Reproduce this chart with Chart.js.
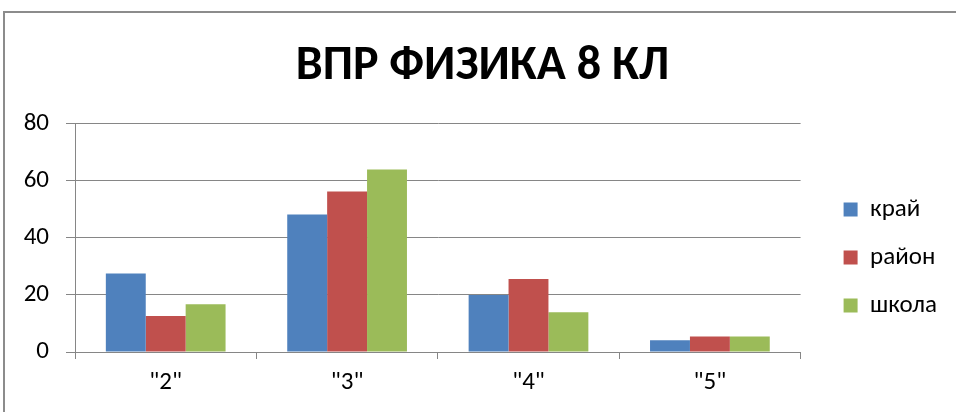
<!DOCTYPE html>
<html>
<head>
<meta charset="utf-8">
<script src="https://cdn.jsdelivr.net/npm/chart.js@4/dist/chart.umd.min.js"></script>
<style>
    html, body { margin: 0; padding: 0; background: #fff; overflow: hidden; }
    #wrap { position: absolute; left: 0; top: 0; width: 956px; height: 412px; }
    #frame { position: absolute; left: 3px; top: 11px; width: 1000px; height: 500px; border: 2px solid #8c8c8c; box-sizing: border-box; }
</style>
</head>
<body>
<div id="frame"></div>
<div id="wrap"><canvas id="chart" width="956" height="412"></canvas></div>
<script>
// chart data
const categories = ['"2"', '"3"', '"4"', '"5"'];
const seriesNames = ['край', 'район', 'школа'];
const krai = [27.5, 48.2, 20.0, 4.1];
const raion = [12.6, 56.2, 25.6, 5.4];
const shkola = [16.7, 63.9, 13.9, 5.4];
const yTicks = [0, 20, 40, 60, 80];

const colors = ['#4F81BD', '#C0504D', '#9BBB59'];
const fontFamily = 'Carlito, "Liberation Sans Narrow", "Open Sans", sans-serif';

document.addEventListener("DOMContentLoaded", function() {
    const ctx = document.getElementById('chart').getContext('2d');
    new Chart(ctx, {
        type: 'bar',
        data: {
            labels: categories,
            datasets: [krai, raion, shkola].map((values, i) => ({
                label: seriesNames[i],
                data: values,
                backgroundColor: colors[i],
                borderWidth: 0,
                categoryPercentage: 0.66,
                barPercentage: 1.0
            }))
        },
        options: {
            responsive: false,
            animation: false,
            layout: { padding: { left: 18, right: 9, top: 38, bottom: 5 } },
            plugins: {
                title: {
                    display: true,
                    text: 'ВПР ФИЗИКА 8 КЛ',
                    color: '#000',
                    font: { family: fontFamily, size: 48, weight: 'bold' },
                    padding: { top: 0, bottom: 28 }
                },
                legend: {
                    position: 'right',
                    // blank title only pushes the items down to where they sit in the original
                    title: { display: true, text: ' ', font: { size: 20 }, padding: 23 },
                    labels: {
                        color: '#000',
                        font: { family: fontFamily, size: 25 },
                        boxWidth: 14,
                        boxHeight: 14,
                        padding: 23
                    }
                },
                tooltip: { enabled: false }
            },
            scales: {
                x: {
                    grid: {
                        display: true,
                        drawOnChartArea: false,
                        drawTicks: true,
                        tickLength: 7,
                        color: '#868686'
                    },
                    border: { color: '#868686', width: 1 },
                    ticks: {
                        color: '#000',
                        font: { family: fontFamily, size: 25 },
                        padding: 9
                    }
                },
                y: {
                    min: 0,
                    max: 80,
                    afterBuildTicks: axis => { axis.ticks = yTicks.map(v => ({ value: v })); },
                    afterFit: axis => { axis.width = 57; },
                    grid: { color: '#868686', tickLength: 9 },
                    border: { color: '#868686', width: 1 },
                    ticks: {
                        color: '#000',
                        font: { family: fontFamily, size: 25 },
                        padding: 17
                    }
                },
                // empty spacer axis: keeps a gap between plot and legend
                gap: {
                    position: 'right',
                    display: true,
                    grid: { display: false },
                    border: { display: false },
                    ticks: { display: false },
                    afterFit: axis => { axis.width = 20; }
                }
            }
        }
    });
});
</script>
</body>
</html>
